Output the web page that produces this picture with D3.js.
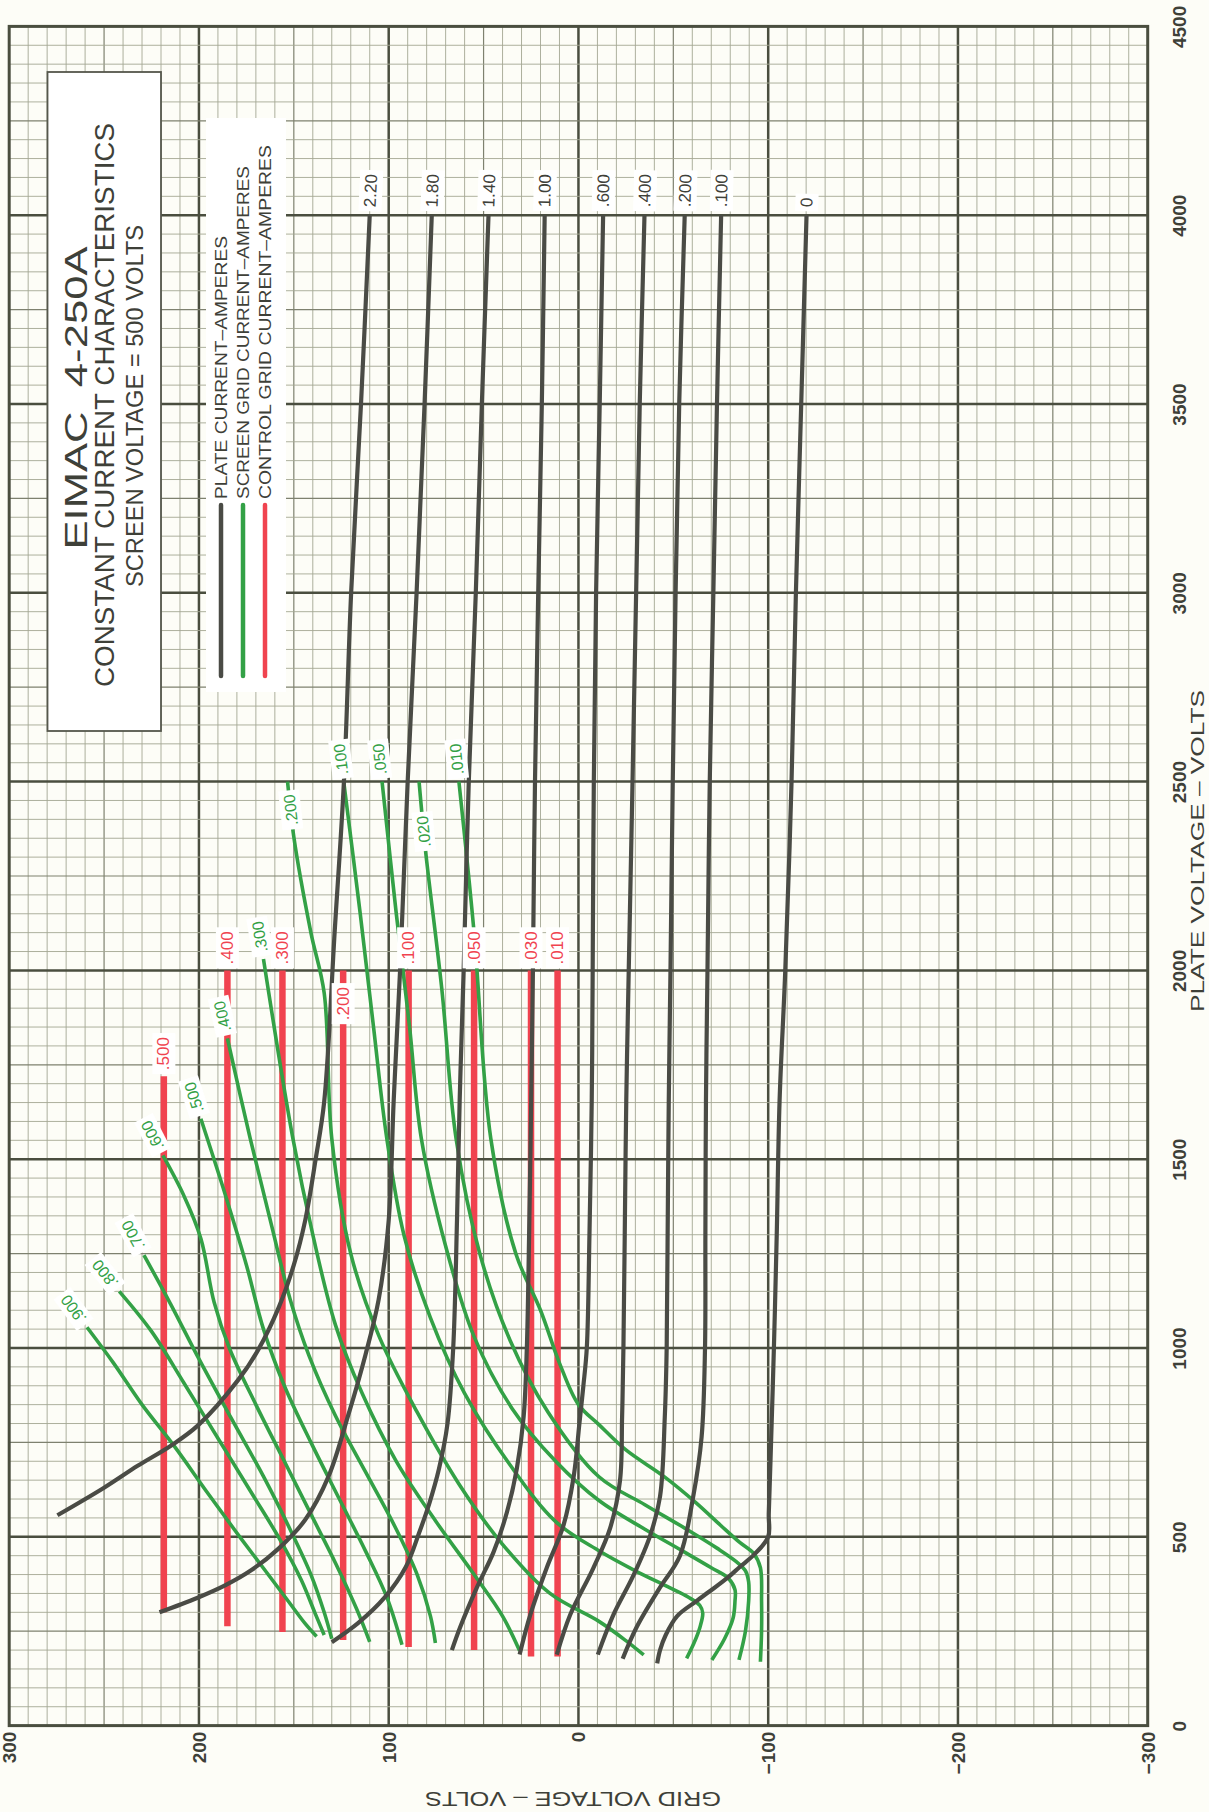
<!DOCTYPE html>
<html><head><meta charset="utf-8">
<script src="https://cdn.jsdelivr.net/npm/d3@7"></script>
<style>
html,body{margin:0;padding:0;background:#fdfdf7;}
svg{display:block;font-family:"Liberation Sans",Arial,sans-serif;}
</style></head><body>
<svg id="chart" width="1209" height="1812"></svg>
<script>
// ================= DATA =================
const gridTicks = [300, 200, 100, 0, -100, -200, -300];
const gridTickLabels = ["300", "200", "100", "0", "\u2212100", "\u2212200", "\u2212300"];
const plateTicks = [0, 500, 1000, 1500, 2000, 2500, 3000, 3500, 4000, 4500];
const plateTickLabels = ["0", "500", "1000", "1500", "2000", "2500", "3000", "3500", "4000", "4500"];

// Plate current curves: [grid volts, plate volts]
const plateCurrentLabels = ["2.20", "1.80", "1.40", "1.00", ".600", ".400", ".200", ".100", "0"];
const plateCurves = [
  [[110,4000],[114.6,3500],[119.8,3000],[123.6,2500],[128.5,2100],[134,1652],[138.5,1500],[144,1338],[150,1220],[158,1107],[168.8,995],[179.4,915],[200.5,795],[214.6,742],[232.3,688],[250,630],[274.6,557]],
  [[77.3,4000],[81.1,3500],[85.3,3000],[90,2500],[94,2000],[97.4,1652],[100,1338],[105.3,1128],[112.3,981],[121.2,824],[131.7,660],[144,545],[158.2,468],[172.3,412],[186,372],[201,338],[220.8,300]],
  [[47.4,4000],[50.9,3500],[54.1,3000],[57.8,2500],[60.5,2000],[62.6,1655],[64,1340],[66,1000],[69,800],[73.5,680],[78.5,590],[84,510],[91,420],[102,340],[116,272],[130,221]],
  [[17.8,4000],[19.3,3500],[21.2,3000],[22.9,2500],[24,2000],[24.9,1655],[26,1300],[27.2,1000],[28.9,817],[32.5,680],[37.7,565],[44.7,460],[53.5,366],[62.3,261],[66.7,200]],
  [[-13,4000],[-11.2,3500],[-9.3,3000],[-8.1,2500],[-7.5,2000],[-7,1655],[-5.8,1300],[-4.4,1000],[-2.6,900],[-0.5,800],[2.5,660],[7.9,530],[16.7,418],[25.4,293],[31,188]],
  [[-34.8,4000],[-32.3,3500],[-30.4,3000],[-28.5,2500],[-26.5,2000],[-25.2,1655],[-24.4,1300],[-23.7,1000],[-23,817],[-21.9,649],[-16.7,523],[-7.9,418],[4.4,293],[11.4,188]],
  [[-56,4000],[-53.1,3500],[-51.2,3000],[-49.7,2500],[-48.5,2000],[-47.6,1655],[-47,1300],[-46.5,1000],[-45.5,817],[-43,607],[-37.7,502],[-28.9,397],[-18.4,293],[-10.2,188]],
  [[-75.2,4000],[-73,3500],[-71.1,3000],[-69.2,2500],[-68,2000],[-67.2,1655],[-66.9,1300],[-66.7,1000],[-64.9,764],[-60.5,607],[-53.5,450],[-43,366],[-30.7,261],[-23.3,177]],
  [[-120.2,4000],[-117.4,3500],[-114.6,3000],[-112.3,2500],[-109,2000],[-106,1655],[-104.5,1300],[-103,1000],[-101.2,700],[-100.3,560],[-100,500],[-92.8,454],[-85,420],[-78.5,391],[-69,355],[-62,329],[-52,290],[-46,240],[-43,200],[-41.5,165]]
];

// Screen grid current curves
const screenCurrentLabels = [".900", ".800", ".700", ".600", ".500", ".400", ".300", ".200", ".100", ".050", ".020", ".010"];
const screenLabelAt = [null, null, null, null, null, null, null, 2425, null, null, 2368, null]; // plate volts of inline labels
const screenCurves = [
  [[259,1055],[245,960],[230,850],[213,740],[196,620],[180,510],[165,410],[153,330],[144,270],[138,236]],
  [[242,1150],[225,1044],[208,908],[190,761],[172,614],[157,490],[146,385],[139,300],[134,240]],
  [[229,1246],[215,1117],[200,971],[183,814],[166,660],[152,520],[141,400],[134,300],[130,230]],
  [[219,1510],[208,1404],[199,1290],[192,1121],[184,1000],[170,850],[155,700],[141,560],[128,430],[117,310],[110,222]],
  [[199,1607],[186,1404],[175,1220],[166,1050],[155,900],[141,750],[126,600],[112,460],[101,340],[93,214]],
  [[185,1820],[173,1555],[162,1330],[152,1130],[142,980],[128,820],[112,670],[97,530],[85,400],[78,290],[75.4,219]],
  [[166,2030],[150.5,1555],[140,1300],[128,1060],[114,880],[96,700],[75,540],[55,400],[40,290],[31,198]],
  [[153.3,2500],[150,2353],[141,2100],[134,1940],[130,1555],[120,1250],[105,1030],[85,830],[63,640],[40,480],[15,350],[-10.8,276],[-25,225],[-34.4,187]],
  [[123.7,2500],[115,2150],[108,1850],[101,1555],[92,1300],[78,1080],[60,880],[36,690],[12,540],[-10.8,463],[-30,410],[-47,368],[-58,340],[-64,318],[-65.5,298],[-64,260],[-61,220],[-57,178]],
  [[103.5,2500],[96,2150],[89,1850],[82.8,1555],[70,1270],[55,1030],[35,840],[12,700],[-10.8,596],[-35,520],[-55,462],[-70,418],[-79,390],[-82.5,360],[-82.5,330],[-81.5,285],[-77,230],[-70.3,174]],
  [[84,2500],[80.6,2318],[72,1950],[64.5,1555],[52,1250],[36,1020],[16,830],[-10.8,659],[-35,585],[-57,520],[-73,470],[-83,435],[-88,410],[-89.7,380],[-89.7,330],[-88,250],[-84.6,174]],
  [[63,2500],[55,2100],[46.2,1555],[33,1250],[20,1100],[10,960],[0,850],[-10.8,797],[-25,730],[-45,660],[-62,590],[-75,530],[-85,485],[-92.5,455],[-95.9,418],[-96.5,329],[-96.5,250],[-95.9,169]]
];

// Control grid current (vertical lines)
const controlCurrentLabels = [".500", ".400", ".300", ".200", ".100", ".050", ".030", ".010"];
const controlGridVolts = [218.5, 185, 156, 124, 89.5, 55, 25, 11];
const controlTopPlate = [1720, 2000, 2000, 2000, 2000, 2000, 2000, 2000];
const controlBottomPlate = [300, 263, 248, 227, 208, 200, 183, 183];
const controlLabelAt = [null, null, null, 1912, null, null, null, null];

const titleLines = ["EIMAC\u00A0\u00A04-250A", "CONSTANT CURRENT CHARACTERISTICS", "SCREEN VOLTAGE = 500 VOLTS"];
const legendLabels = ["PLATE CURRENT\u2013AMPERES", "SCREEN GRID CURRENT\u2013AMPERES", "CONTROL GRID CURRENT\u2013AMPERES"];

// ================= STYLE =================
const C = { bg:"#fdfdf7", minor:"#a4a793", medium:"#7e816f", major:"#4a4e3f",
  plate:"#4a4b45", screen:"#33a146", control:"#f0434f", text:"#3e4038" };

const svg = d3.select("#chart");
svg.append("rect").attr("width",1209).attr("height",1812).attr("fill",C.bg);

const X = d3.scaleLinear().domain([300,-300]).range([9.2,1147.7]);
const Y = d3.scaleLinear().domain([0,4500]).range([1725.6,26.4]);

// ---- grid ----
const gGrid = svg.append("g");
const vVals = d3.range(-290, 300, 10);
gGrid.selectAll("line.v").data(vVals).join("line")
  .attr("x1",d=>X(d)).attr("x2",d=>X(d)).attr("y1",Y(4500)).attr("y2",Y(0))
  .attr("stroke",d=>d%100===0?C.major:(d%50===0?C.medium:C.minor))
  .attr("stroke-width",d=>d%100===0?2.5:(d%50===0?1.2:0.9));
const hVals = d3.range(50, 4500, 50);
gGrid.selectAll("line.h").data(hVals).join("line")
  .attr("y1",d=>Y(d)).attr("y2",d=>Y(d)).attr("x1",X(300)).attr("x2",X(-300))
  .attr("stroke",d=>d%500===0?C.major:(d%250===0?C.medium:C.minor))
  .attr("stroke-width",d=>d%500===0?2.5:(d%250===0?1.2:0.9));
gGrid.append("rect").attr("x",X(300)).attr("y",Y(4500)).attr("width",X(-300)-X(300)).attr("height",Y(0)-Y(4500))
  .attr("fill","none").attr("stroke",C.major).attr("stroke-width",3);

// ---- title box ----
svg.append("rect").attr("x",47.5).attr("y",72).attr("width",113.5).attr("height",659)
  .attr("fill","#ffffff").attr("stroke","#55574c").attr("stroke-width",1.8);
const titleX = [76, 104.5, 135], titleY = [398, 405, 406], titleSize = [31, 27, 23], titleLen = [303, 564, 362];
titleLines.forEach((t,i)=>{
  svg.append("text").attr("transform",`translate(${titleX[i]},${titleY[i]}) rotate(-90)`)
    .attr("text-anchor","middle").attr("dominant-baseline","central")
    .attr("font-size",titleSize[i]).attr("fill",C.text).attr("textLength",titleLen[i])
    .attr("lengthAdjust","spacingAndGlyphs").text(t);
});

// ---- legend ----
svg.append("rect").attr("x",206).attr("y",118).attr("width",80).attr("height",574).attr("fill","#ffffff");
const legColors = [C.plate, C.screen, C.control];
const legX = [221, 243, 265], legLen = [263, 333, 354];
legendLabels.forEach((t,i)=>{
  svg.append("line").attr("x1",legX[i]).attr("x2",legX[i]).attr("y1",505).attr("y2",676)
    .attr("stroke",legColors[i]).attr("stroke-width",4.5).attr("stroke-linecap","round");
  svg.append("text").attr("transform",`translate(${legX[i]},499) rotate(-90)`)
    .attr("text-anchor","start").attr("dominant-baseline","central")
    .attr("font-size",16).attr("fill",C.text).attr("textLength",legLen[i])
    .attr("lengthAdjust","spacingAndGlyphs").text(t);
});

// ---- curves ----
const line = d3.line().x(d=>X(d[0])).y(d=>Y(d[1])).curve(d3.curveCatmullRom.alpha(0.5));
const gCurves = svg.append("g");
gCurves.selectAll("line.ctl").data(controlGridVolts).join("line")
  .attr("x1",d=>X(d)).attr("x2",d=>X(d))
  .attr("y1",(d,i)=>Y(controlTopPlate[i])).attr("y2",(d,i)=>Y(controlBottomPlate[i]))
  .attr("stroke",C.control).attr("stroke-width",6.5);
gCurves.selectAll("path.scr").data(screenCurves).join("path")
  .attr("d",line).attr("fill","none").attr("stroke",C.screen).attr("stroke-width",3.6);
gCurves.selectAll("path.pl").data(plateCurves).join("path")
  .attr("d",line).attr("fill","none").attr("stroke",C.plate).attr("stroke-width",4.2);

// ---- labels ----
const gLab = svg.append("g");
function addLabel(px, py, ang, text, color, anchor, size){
  const g = gLab.append("g").attr("transform",`translate(${px},${py}) rotate(${ang})`);
  const t = g.append("text").attr("text-anchor",anchor).attr("dominant-baseline","central")
    .attr("font-size",size).attr("fill",color).text(text);
  const bb = t.node().getBBox();
  g.insert("rect","text").attr("x",bb.x-4).attr("y",bb.y-2).attr("width",bb.width+8).attr("height",bb.height+4).attr("fill","#ffffff");
}
function endLabel(pts, text, color, gap, size){
  const p0 = [X(pts[0][0]), Y(pts[0][1])], p1 = [X(pts[1][0]), Y(pts[1][1])];
  let dx = p0[0]-p1[0], dy = p0[1]-p1[1]; const L = Math.hypot(dx,dy); dx/=L; dy/=L;
  const ang = Math.atan2(dy,dx)*180/Math.PI;
  addLabel(p0[0]+dx*gap, p0[1]+dy*gap, ang, text, color, "start", size);
}
function midLabel(pts, ep, text, color, size){
  let i = 0; while (i < pts.length-2 && pts[i+1][1] > ep) i++;
  const a = pts[i], b = pts[i+1];
  const f = (ep - a[1])/(b[1]-a[1]);
  const eg = a[0] + f*(b[0]-a[0]);
  let dx = X(a[0])-X(b[0]), dy = Y(a[1])-Y(b[1]);
  const ang = Math.atan2(dy,dx)*180/Math.PI;
  addLabel(X(eg), Y(ep), ang, text, color, "middle", size);
}
plateCurves.forEach((c,i)=> endLabel(c, plateCurrentLabels[i], C.text, 8, 17));
screenCurves.forEach((c,i)=>{
  if (screenLabelAt[i]) midLabel(c, screenLabelAt[i], screenCurrentLabels[i], C.screen, 16);
  else endLabel(c, screenCurrentLabels[i], C.screen, 7, 16);
});
controlGridVolts.forEach((v,i)=>{
  const pts = [[v, controlTopPlate[i]],[v, controlBottomPlate[i]]];
  if (controlLabelAt[i]) midLabel(pts, controlLabelAt[i], controlCurrentLabels[i], C.control, 17);
  else endLabel(pts, controlCurrentLabels[i], C.control, 6, 17);
});

// ---- axes ----
const axR = svg.append("g").attr("transform","translate(1179,0)")
  .call(d3.axisRight(Y).tickValues(plateTicks).tickSize(0).tickPadding(0).tickFormat((d,i)=>plateTickLabels[i]));
axR.select(".domain").remove();
axR.selectAll("text").attr("x",0).attr("dy",null).attr("dominant-baseline","central")
  .attr("text-anchor","middle").attr("transform","rotate(-90)")
  .attr("font-size",19).attr("fill",C.text).attr("font-family","Liberation Sans, Arial, sans-serif").attr("font-weight","bold");

const axB = svg.append("g").attr("transform",`translate(0,${Y(0)+6})`)
  .call(d3.axisBottom(X).tickValues(gridTicks).tickSize(0).tickPadding(0).tickFormat((d,i)=>gridTickLabels[i]));
axB.select(".domain").remove();
axB.selectAll("text").attr("y",0).attr("x",0).attr("dy",null).attr("dominant-baseline","central")
  .attr("text-anchor","end").attr("transform","rotate(-90)")
  .attr("font-size",19).attr("fill",C.text).attr("font-family","Liberation Sans, Arial, sans-serif").attr("font-weight","bold");

svg.append("text").attr("transform","translate(1197,851) rotate(-90)")
  .attr("text-anchor","middle").attr("dominant-baseline","central")
  .attr("font-size",19).attr("fill",C.text).attr("textLength",322).attr("lengthAdjust","spacingAndGlyphs")
  .text("PLATE VOLTAGE \u2013 VOLTS");
svg.append("text").attr("transform","translate(573,1799) rotate(180)")
  .attr("text-anchor","middle").attr("dominant-baseline","central")
  .attr("font-size",20).attr("fill",C.text).attr("textLength",296).attr("lengthAdjust","spacingAndGlyphs")
  .text("GRID VOLTAGE \u2013 VOLTS");
</script>
</body></html>
